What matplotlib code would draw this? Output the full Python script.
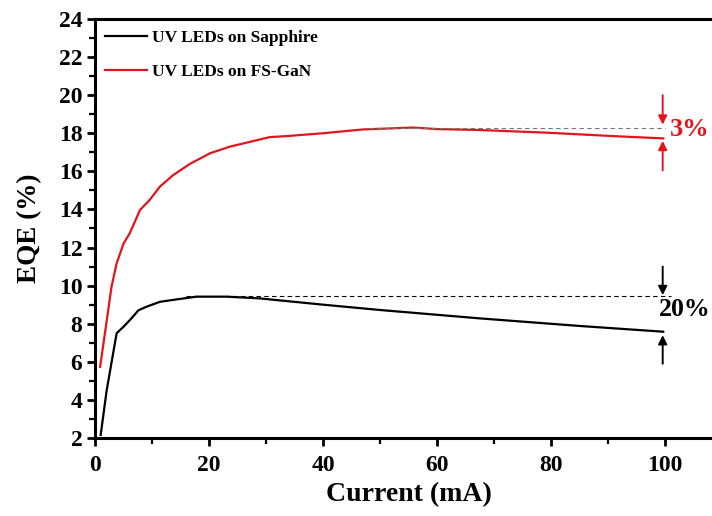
import numpy as np
import matplotlib
matplotlib.use("Agg")
import matplotlib.pyplot as plt
from matplotlib.ticker import MultipleLocator

RED = "#e3141b"
BLACK = "#000000"

# ---- data ----
cur_gan = [0.9, 1.75, 2.9, 3.8, 5.0, 6.1, 7.9, 9.6, 11.4, 13.7, 16.7, 20.2, 23.7,
           27.2, 30.7, 33.6, 40.0, 47.0, 55.8, 60.0, 67.5, 79.3, 91.0, 99.7]
eqe_gan = [5.74, 7.5, 9.94, 11.17, 12.2, 12.75, 13.97, 14.5, 15.2, 15.8, 16.4, 16.95, 17.3,
           17.55, 17.8, 17.85, 18.0, 18.2, 18.3, 18.22, 18.17, 18.03, 17.85, 17.73]

cur_sap = [1.0, 2.05, 3.8, 5.0, 6.4, 7.6, 9.1, 11.4, 14.9, 17.8, 23.1, 28.9, 31.9,
           40.0, 50.0, 67.5, 85.1, 99.7]
eqe_sap = [2.16, 4.5, 7.5, 7.84, 8.28, 8.7, 8.9, 9.15, 9.3, 9.42, 9.42, 9.33, 9.24,
           9.0, 8.72, 8.28, 7.88, 7.58]

peak_gan = 18.3
peak_sap = 9.45
labels = ["UV LEDs on Sapphire", "UV LEDs on FS-GaN"]

# ---- figure ----
plt.rcParams["font.family"] = ["Liberation Serif", "DejaVu Serif"]
plt.rcParams["font.weight"] = "bold"

fig = plt.figure(figsize=(7.12, 5.16), dpi=100)
ax = fig.add_axes([0.1334, 0.1512, 0.8806, 0.812])

ax.plot(cur_sap, eqe_sap, color=BLACK, lw=1.6, label=labels[0])
ax.plot(cur_gan, eqe_gan, color=RED, lw=1.6, label=labels[1])

# peak reference lines
ax.plot([48, 100], [peak_gan, peak_gan], color="#777777", lw=0.8, ls=(0, (4, 3)))
ax.plot([16, 101], [peak_sap, peak_sap], color=BLACK, lw=0.8, ls=(0, (4, 3)))

# droop arrows
arw = dict(arrowstyle="-|>", lw=1.4, mutation_scale=13, shrinkA=0, shrinkB=0)
ax.annotate("", xy=(99.6, 18.45), xytext=(99.6, 20.0), arrowprops=dict(color=RED, **arw))
ax.annotate("", xy=(99.6, 17.6), xytext=(99.6, 16.05), arrowprops=dict(color=RED, **arw))
ax.annotate("", xy=(99.6, 9.5), xytext=(99.6, 11.0), arrowprops=dict(color=BLACK, **arw))
ax.annotate("", xy=(99.6, 7.4), xytext=(99.6, 5.9), arrowprops=dict(color=BLACK, **arw))
ax.text(100.9, 18.2, "3%", color=RED, fontsize=19, fontweight="bold", va="center",
        ha="left", clip_on=False)
ax.text(98.9, 8.72, "20%", color=BLACK, fontsize=18.5, fontweight="bold", va="center",
        ha="left", clip_on=False)

ax.set_xlim(0, 110)
ax.set_ylim(2, 24)
ax.xaxis.set_major_locator(MultipleLocator(20))
ax.xaxis.set_minor_locator(MultipleLocator(10))
ax.yaxis.set_major_locator(MultipleLocator(2))
ax.yaxis.set_minor_locator(MultipleLocator(1))
ax.tick_params(which="major", direction="out", length=6, width=2, labelsize=17, pad=3)
ax.tick_params(axis="x", which="major", pad=6)
ax.tick_params(which="minor", direction="out", length=4, width=1.6)
for lbl in ax.get_xticklabels() + ax.get_yticklabels():
    lbl.set_fontweight("bold")

for side in ["left", "bottom", "top"]:
    ax.spines[side].set_linewidth(2.2)
ax.spines["right"].set_visible(False)

ax.set_xlabel("Current (mA)", fontsize=20, fontweight="bold", labelpad=5)
ax.set_ylabel("EQE (%)", fontsize=19.5, fontweight="bold", labelpad=12)

leg = ax.legend(loc="upper left", bbox_to_anchor=(0.016, 0.975), frameon=False,
                prop={"weight": "bold", "size": 12.5}, handlelength=2.4,
                handletextpad=0.3, labelspacing=1.05, borderaxespad=0, borderpad=0)

fig.savefig("out.png", dpi=100)
